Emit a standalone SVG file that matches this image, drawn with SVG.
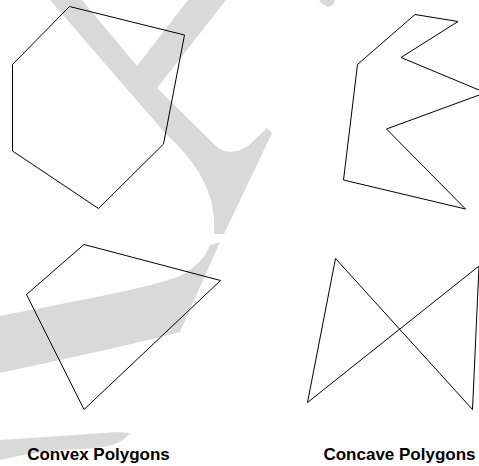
<svg xmlns="http://www.w3.org/2000/svg" width="479" height="466" viewBox="0 0 479 466">
<style>
.wm{fill:#d9d9d9;stroke:none}
.poly{fill:none;stroke:#000;stroke-width:1}
.lbl{font-family:"Liberation Sans",Arial,sans-serif;font-size:17px;font-weight:bold;fill:#000;text-anchor:middle}
</style>
<rect width="479" height="466" fill="#fff"/>
<g id="watermark">
<path class="wm" d="M50,0 L82,0 L137,66 L188,0 L226,0 L157,88 L217,147 C224,153 236,154 248,146 L267,128 L272,133 L224,234 L214,234 C216,200 205,170 165,133 Z"/>
<path class="wm" d="M210,245 L220,242 L180,332 C130,345 60,360 0,373 L0,316 C80,300 150,288 180,276 C195,268 205,258 210,245 Z"/>
<path class="wm" d="M319,0 L335,0 L333,5 L328,7 L321,3 Z"/>
<path class="wm" d="M116,432 L130,433 C122,444 108,448 80,449 C50,450 20,455 0,460 L0,440 C40,437 80,435 116,432 Z"/>
</g>
<g id="convex-hexagon"><polygon class="poly" points="69.5,6.5 184.5,35 163.5,144 98.5,208.5 12.5,151 12.5,64.5"/></g>
<g id="concave-star"><polygon class="poly" points="415,14.5 458,21.5 401,57.5 485.5,92.7 386.5,129 465.5,209 343.5,180 357.5,64.5"/></g>
<g id="convex-quad"><polygon class="poly" points="84,244.5 220.5,280.5 84,409.5 26.5,294.5"/></g>
<g id="concave-bowtie"><polygon class="poly" points="335.5,258.5 472.5,409.5 479,266 307.5,402.5"/></g>
<g id="labels">
<text class="lbl" x="98.5" y="460">Convex Polygons</text>
<text class="lbl" x="399.5" y="460">Concave Polygons</text>
</g>
</svg>
